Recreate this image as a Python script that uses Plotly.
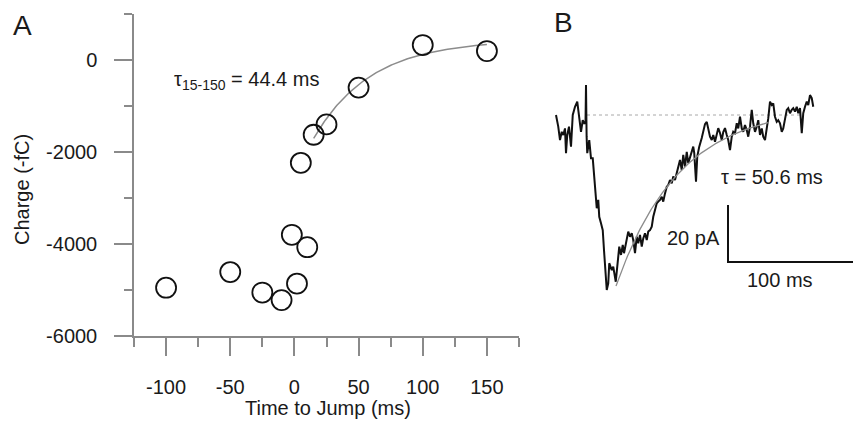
import numpy as np
import plotly.graph_objects as go

# ---------------- Panel A data ----------------
time_to_jump = [-100, -50, -25, -10, -2, 2, 10, 5, 15, 25, 50, 100, 150]
charge = [-4950, -4610, -5055, -5220, -3800, -4860, -4070, -2235, -1625, -1400, -600, 325, 195]
x_major = [-100, -50, 0, 50, 100, 150]
x_minor = [-125, -75, -25, 25, 75, 125, 175]
y_major = [-6000, -4000, -2000, 0]
y_minor = [-5000, -3000, -1000, 1000]
# exponential fit (15-150 ms), tau = 44.4 ms
fitA_t0, fitA_t1, fitA_tau = 15, 150, 44.4
fitA_y0, fitA_yinf = -1705, 440

# ---------------- Panel B data ----------------
trace_t = [0, 1.8, 3.2, 4.6, 5.8, 7.2, 8.0, 9.0, 10.4, 12.0, 13.4, 15.2, 17.0, 18.4, 20.0, 21.4,
           22.6, 23.6, 24.0, 24.5, 25.0, 26.6, 28.0, 29.4, 30.6, 31.8, 32.6, 33.8, 34.6, 36.0,
           37.4, 38.4, 39.8, 40.6, 41.8, 42.6, 44.6, 45.8, 47.8, 49.4, 50.6, 52.0, 53.4, 54.4,
           56.0, 57.8, 59.2, 60.6, 61.8, 63.2, 64.6, 65.8, 67.2, 68.6, 69.8, 71.2, 72.6, 73.8,
           75.2, 76.6, 77.8, 79.2, 80.6, 81.8, 83.2, 84.6, 85.8, 87.2, 88.6, 89.8, 91.2, 92.6,
           93.8, 95.2, 96.6, 97.8, 99.2, 100.6, 101.8, 103.2, 104.6, 105.8, 107.2, 108.6, 109.8,
           110.6, 112.0, 113.0, 114.6, 116.6, 117.8, 119.2, 120.6, 121.8, 123.2, 124.6, 125.8,
           127.2, 128.6, 129.8, 131.2, 132.6, 133.8, 135.2, 136.6, 137.8, 139.2, 140.6, 141.8,
           143.2, 144.6, 145.8, 147.2, 148.6, 149.8, 151.2, 152.6, 153.8, 155.2, 156.6, 157.8,
           159.2, 160.6, 161.8, 163.2, 164.6, 165.8, 167.2, 168.6, 169.8, 171.2, 172.6, 173.8,
           175.2, 176.6, 177.8, 179.2, 180.6, 181.8, 183.2, 184.6, 185.8, 187.2, 188.6, 189.8,
           191.2, 192.6, 193.8, 195.2, 196.6, 197.8, 199.2, 200.6, 201.8, 203.2, 204.6, 205.8]
trace_pA = [0, -4.1, -8.8, -5.9, -7.0, -4.7, -13.4, -7.0, -4.1, -11.1, 0, 2.9, 4.7, -0.6, -5.9, -1.8,
            -2.9, -2.8, 10.5, -7.6, -13.4, -8.8, -15.2, -15.2, -21.6, -28.7, -32.7, -29.8, -35.7, -38.0,
            -40.4, -47.4, -54.4, -61.4, -59.1, -52.0, -54.4, -53.2, -58.5, -52.0, -46.2, -49.1, -45.6, -48.5,
            -44.5, -40.9, -42.7, -41.5, -43.9, -48.5, -42.7, -45.0, -42.1, -46.2, -43.3, -41.5, -43.9, -40.9,
            -40.4, -39.2, -35.7, -33.3, -31.0, -30.4, -29.8, -28.7, -30.4, -27.5, -25.2, -24.6, -22.8, -24.0,
            -21.6, -22.8, -20.5, -18.7, -15.8, -19.3, -14.0, -18.1, -12.9, -16.9, -14.6, -12.3, -11.1,
            -13.4, -23.4, -14.6, -11.1, -8.1, -5.3, -3.2, -2.4, -4.7, -7.6, -8.8, -7.0,
            -9.4, -6.3, -4.6, -6.3, -8.8, -6.0, -4.6, -7.0, -8.8, -12.3, -7.6, -5.9,
            -6.4, -2.9, -4.7, -0.6, -4.7, -5.9, -3.5, -5.3, -7.6, -4.1, 1.8, -2.9,
            -5.9, -4.1, -1.8, -7.0, -4.7, -7.6, -8.8, -4.7, -1.2, 4.7, 3.5, 4.1,
            -0.6, -2.4, -1.8, -2.9, -5.9, -4.7, -0.6, 1.8, 2.4, 0.6, 1.8, 2.4,
            1.2, 2.9, 0.6, 2.4, -6.4, 0.6, 2.9, 4.7, 3.5, 7.0, 5.9, 2.9]
baseline_t = [24.8, 197.6]
baseline_pA = [0, 0]
fitB_t0, fitB_t1, fitB_tau = 48, 170, 50.6
fitB_y0, fitB_yinf = -60, 3
# scale bar: 100 ms x 20 pA
bar_t0, bar_pA0 = 137.6, -51.6
bar_len_t, bar_len_pA = 100, 20

FONT = "Liberation Sans, Arial, sans-serif"
AXC = "#8a8a8a"
TXT = "#1a1a1a"
W, H = 854, 428

fig = go.Figure()

# ---- Panel A ----
ta = np.linspace(fitA_t0, fitA_t1, 120)
fig.add_trace(go.Scatter(x=ta, y=fitA_yinf + (fitA_y0 - fitA_yinf) * np.exp(-(ta - fitA_t0) / fitA_tau),
                         mode="lines", line=dict(color="#8c8c8c", width=1.5),
                         xaxis="x", yaxis="y", showlegend=False, hoverinfo="skip"))
fig.add_trace(go.Scatter(x=time_to_jump, y=charge, mode="markers",
                         marker=dict(symbol="circle-open", size=20, color="#111111",
                                     line=dict(width=1.8, color="#111111")),
                         xaxis="x", yaxis="y", showlegend=False))

# ---- Panel B ----
fig.add_trace(go.Scatter(x=baseline_t, y=baseline_pA, mode="lines",
                         line=dict(color="#a8a8a8", width=1, dash="dot"),
                         xaxis="x2", yaxis="y2", showlegend=False, hoverinfo="skip"))
fig.add_trace(go.Scatter(x=trace_t, y=trace_pA, mode="lines",
                         line=dict(color="#111111", width=2),
                         xaxis="x2", yaxis="y2", showlegend=False))
tb = np.linspace(fitB_t0, fitB_t1, 120)
fig.add_trace(go.Scatter(x=tb, y=fitB_yinf + (fitB_y0 - fitB_yinf) * np.exp(-(tb - fitB_t0) / fitB_tau),
                         mode="lines", line=dict(color="#8c8c8c", width=1.3),
                         xaxis="x2", yaxis="y2", showlegend=False, hoverinfo="skip"))
fig.add_trace(go.Scatter(x=[bar_t0, bar_t0, bar_t0 + bar_len_t],
                         y=[bar_pA0 + bar_len_pA, bar_pA0, bar_pA0],
                         mode="lines", line=dict(color="#111111", width=2),
                         xaxis="x2", yaxis="y2", showlegend=False, hoverinfo="skip"))

tick_common = dict(showline=True, linecolor=AXC, linewidth=1.5, ticks="outside",
                   tickcolor=AXC, tickwidth=1.5, ticklen=18, showgrid=False, zeroline=False,
                   automargin=False,
                   tickfont=dict(family=FONT, size=20, color=TXT))

fig.update_layout(
    width=W, height=H, margin=dict(l=0, r=0, t=0, b=0, pad=0, autoexpand=False),
    showlegend=False,
    plot_bgcolor="white", paper_bgcolor="white",
    font=dict(family=FONT, size=20, color=TXT),
    xaxis=dict(domain=[134 / W, 519 / W], range=[-125, 175], tickmode="array", tickvals=x_major,
               ticktext=[str(v) for v in x_major], ticklabelstandoff=14,
               minor=dict(tickmode="array", tickvals=x_minor, ticks="outside", ticklen=9,
                          tickcolor=AXC, tickwidth=1.5, showgrid=False),
               **tick_common),
    yaxis=dict(domain=[1 - 336 / H, 1 - 14 / H], range=[-6000, 1000], tickmode="array", tickvals=y_major,
               ticktext=[str(v) for v in y_major], ticklabelstandoff=13,
               minor=dict(tickmode="array", tickvals=y_minor, ticks="outside", ticklen=8,
                          tickcolor=AXC, tickwidth=1.5, showgrid=False),
               **tick_common),
    xaxis2=dict(domain=[540 / W, 1.0], range=[(540 - 556) / 1.25, (854 - 556) / 1.25],
                visible=False, anchor="y2", automargin=False),
    yaxis2=dict(domain=[0, 1], range=[(115 - 428) / 2.85, 115 / 2.85], visible=False, anchor="x2",
                automargin=False),
)

def ann(text, px, py, size=20, xanchor="center", yanchor="middle", textangle=0):
    fig.add_annotation(text=text, x=px / W, y=1 - py / H, xref="paper", yref="paper",
                       showarrow=False, xanchor=xanchor, yanchor=yanchor, textangle=textangle,
                       font=dict(family=FONT, size=size, color=TXT))

ann("A", 22, 25, size=28)
ann("B", 563, 23, size=28)
ann("Time to Jump (ms)", 328, 408)
ann("Charge (-fC)", 22, 190, textangle=-90)
ann("τ<sub>15-150</sub> = 44.4 ms", 172, 80, xanchor="left")
ann("τ = 50.6 ms", 719, 177, xanchor="left")
ann("20 pA", 722, 238, xanchor="right")
ann("100 ms", 780, 280)

post = (
    "var s=document.createElement('style');"
    "s.textContent='html,body{margin:0;padding:0;overflow:hidden;height:428px;width:854px;}"
    "body>div{display:block;height:428px;overflow:hidden;line-height:0;}';"
    "document.head.appendChild(s);"
)
fig.write_html("out.html", config={"displayModeBar": False, "responsive": False}, post_script=post)
